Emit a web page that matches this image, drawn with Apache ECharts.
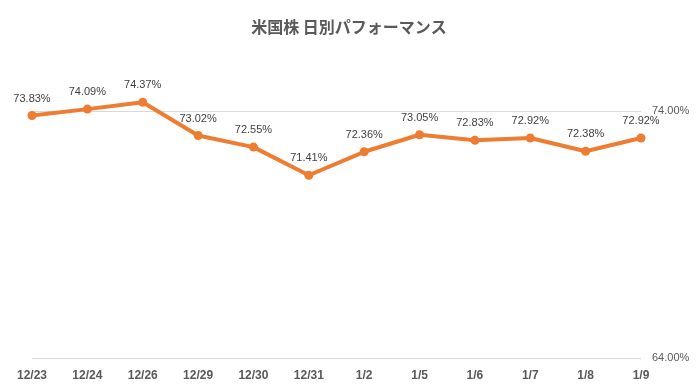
<!DOCTYPE html>
<html><head><meta charset="utf-8">
<script src="https://cdn.jsdelivr.net/npm/echarts@6/dist/echarts.min.js"></script>
<style>html,body{margin:0;padding:0;background:#fff}#c{width:698px;height:392px}</style>
</head><body><div id="c"></div>
<script>
const categories = ['12/23','12/24','12/26','12/29','12/30','12/31','1/2','1/5','1/6','1/7','1/8','1/9'];
const values = [73.83, 74.09, 74.37, 73.02, 72.55, 71.41, 72.36, 73.05, 72.83, 72.92, 72.38, 72.92];
const yMin = 64, yMax = 74.5, yInterval = 10;
const title = '米国株 日別パフォーマンス';

const chart = echarts.init(document.getElementById('c'));
const lblFont = '"Liberation Sans Narrow","Liberation Sans",sans-serif';
chart.setOption({
  animation: false,
  title: {
    text: title, left: 'center', top: 14,
    textStyle: { fontFamily: '"Noto Sans CJK JP"', fontSize: 16, fontWeight: 'bold', color: '#595959' }
  },
  grid: { left: 32, right: 57, top: 99, bottom: 34 },
  xAxis: {
    type: 'category', data: categories, boundaryGap: false,
    axisLine: { show: false }, axisTick: { show: false },
    axisLabel: { margin: 12, fontSize: 12, fontWeight: 'bold', color: '#595959', fontFamily: '"Liberation Sans",sans-serif' }
  },
  yAxis: {
    type: 'value', position: 'right', min: yMin, max: yMax, interval: yInterval,
    axisLine: { show: false }, axisTick: { show: false },
    axisLabel: { showMaxLabel: false, margin: 11, fontSize: 11, color: '#595959', fontFamily: lblFont,
      formatter: v => v.toFixed(2) + '%' },
    splitLine: { show: true, showMaxLine: false, lineStyle: { color: '#D9D9D9', width: 1 } }
  },
  series: [{
    type: 'line', data: values, clip: false,
    symbol: 'circle', symbolSize: 9,
    lineStyle: { color: '#ED7D31', width: 4 },
    itemStyle: { color: '#ED7D31' },
    label: { show: true, position: 'top', distance: 7, fontSize: 11, color: '#404040', fontFamily: lblFont,
      formatter: p => p.value.toFixed(2) + '%' }
  }]
});
</script></body></html>
